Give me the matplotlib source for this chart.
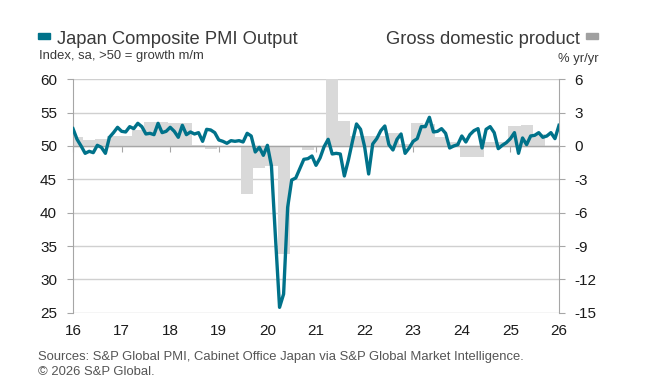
import matplotlib
matplotlib.use("Agg")
import matplotlib.pyplot as plt
from matplotlib.patches import Rectangle
import numpy as np

# Japan Composite PMI Output, monthly, Jan 2016 - Jan 2026
pmi = [52.6, 51.0, 50.0, 48.9, 49.2, 49.0, 50.1, 49.8, 48.9, 51.3, 52.0, 52.8,
       52.2, 52.1, 52.9, 52.6, 53.4, 52.9, 51.8, 51.9, 51.7, 53.4, 52.0, 52.2,
       52.8, 52.2, 51.3, 53.1, 51.7, 52.1, 51.8, 52.0, 50.7, 52.5, 52.4, 52.0,
       50.9, 50.7, 50.4, 50.8, 50.7, 50.8, 50.6, 51.9, 51.5, 49.1, 49.8, 48.6,
       50.1, 47.0, 36.2, 25.8, 27.8, 40.8, 44.9, 45.2, 46.6, 48.0, 48.1, 48.5,
       47.1, 48.2, 49.9, 51.0, 48.8, 48.9, 48.8, 45.5, 47.9, 50.7, 53.3, 52.5,
       49.9, 45.8, 50.3, 51.1, 52.3, 53.0, 50.2, 49.4, 51.0, 51.8, 48.9, 49.7,
       50.7, 51.1, 52.9, 52.9, 54.3, 52.1, 52.2, 52.6, 51.9, 49.7, 50.0, 50.2,
       51.5, 50.6, 51.7, 52.3, 52.6, 49.7, 52.5, 52.9, 52.0, 49.6, 50.1, 50.5,
       51.1, 52.0, 48.9, 51.2, 50.2, 51.5, 51.6, 52.0, 51.3, 51.5, 52.0, 51.1,
       53.1]

# GDP % yr/yr, quarterly, Q1 2016 - Q3 2025
gdp = [0.8, 0.5, 0.6, 0.9, 0.9, 1.4, 2.2, 2.2, 2.1, 2.1, 0.05, -0.3,
       -0.1, 0.0, -4.3, -2.0, -1.8, -9.7, 0.0, -0.4, -0.1, 7.3, 2.25, 0.9,
       0.9, 0.9, 1.15, 0.2, 2.1, 2.0, 0.8, 0.4, -1.0, -1.0, 0.4, 0.4,
       1.8, 1.9, 1.1]

year_labels = ["16", "17", "18", "19", "20", "21", "22", "23", "24", "25", "26"]

W, H = 652, 392
fig = plt.figure(figsize=(W / 100, H / 100), dpi=100)
ax1 = fig.add_axes([73 / W, 1 - 312.7 / H, 486 / W, 233.4 / H])
ax2 = ax1.twinx()
ax1.set_zorder(ax2.get_zorder() + 1)
ax1.patch.set_visible(False)

tick_font = {"family": ["Liberation Sans", "DejaVu Sans"], "size": 11}
grey = "#a6a6a6"

xm = 2016 + np.arange(len(pmi)) / 12
xq = 2016 + (3 * np.arange(len(gdp)) + 1) / 12

ax2.bar(xq, gdp, width=0.25, color="#d9d9d9", zorder=2, linewidth=0)
ax2.axhline(0, color=grey, lw=1, zorder=3)
ax1.plot(xm, pmi, color="#00728a", lw=2.4, zorder=4)

ax1.set_xlim(2016, 2026)
ax1.set_ylim(25, 60)
ax2.set_ylim(-15, 6)
ax1.set_yticks(np.arange(25, 61, 5))
ax2.set_yticks(np.arange(-15, 7, 3))
ax1.set_xticks(np.arange(2016, 2027))
ax1.set_xticklabels(year_labels, fontdict=tick_font)
ax1.set_yticklabels([str(v) for v in range(25, 61, 5)], fontdict=tick_font)
ax2.set_yticklabels([str(v) for v in range(-15, 7, 3)], fontdict=tick_font)

ax2.set_axisbelow(True)
ax2.yaxis.grid(True, color="#d0d0d0", lw=1)

for s in ["top", "bottom", "right"]:
    ax1.spines[s].set_visible(False)
ax1.spines["left"].set_color(grey)
for s in ["top", "left"]:
    ax2.spines[s].set_visible(False)
ax2.spines["right"].set_color(grey)
ax2.xaxis.set_visible(True)
ax2.spines["bottom"].set_position(("data", 0))
ax2.spines["bottom"].set_visible(False)
ax2.tick_params(axis="x", direction="out", length=4, color=grey,
                labelbottom=False, labeltop=False)

ax1.tick_params(axis="x", length=0, pad=8, colors="#1a1a1a")
ax1.tick_params(axis="y", direction="out", length=4, color=grey,
                labelcolor="#1a1a1a", pad=7.5)
ax2.tick_params(axis="y", direction="out", length=4, color=grey,
                labelcolor="#1a1a1a", pad=7)

txt = ["Liberation Sans", "DejaVu Sans"]
dark = "#3a3a3a"
fig.patches.append(Rectangle((38.3 / W, 1 - 38.5 / H), 12 / W, 5.5 / H,
                             transform=fig.transFigure, color="#00728a"))
fig.patches.append(Rectangle((586 / W, 1 - 38.5 / H), 12.3 / W, 5.5 / H,
                             transform=fig.transFigure, color="#a0a0a0"))
fig.text(56.7 / W, 1 - 44.3 / H, "Japan Composite PMI Output", family=txt,
         fontsize=13.2, color=dark, va="baseline")
fig.text(38.7 / W, 1 - 59.3 / H, "Index, sa, >50 = growth m/m", family=txt,
         fontsize=9.4, color=dark, va="baseline")
fig.text(580 / W, 1 - 44.3 / H, "Gross domestic product", family=txt,
         fontsize=13.2, color=dark, va="baseline", ha="right")
fig.text(598.3 / W, 1 - 61.7 / H, "% yr/yr", family=txt,
         fontsize=9.4, color=dark, va="baseline", ha="right")
fig.text(38.3 / W, 1 - 360 / H,
         "Sources: S&P Global PMI, Cabinet Office Japan via S&P Global Market Intelligence.",
         family=txt, fontsize=9.4, color="#555555", va="baseline")
fig.text(38.3 / W, 1 - 375 / H, "\u00a9 2026 S&P Global.",
         family=txt, fontsize=9.4, color="#555555", va="baseline")

fig.savefig("out.png", dpi=100)
